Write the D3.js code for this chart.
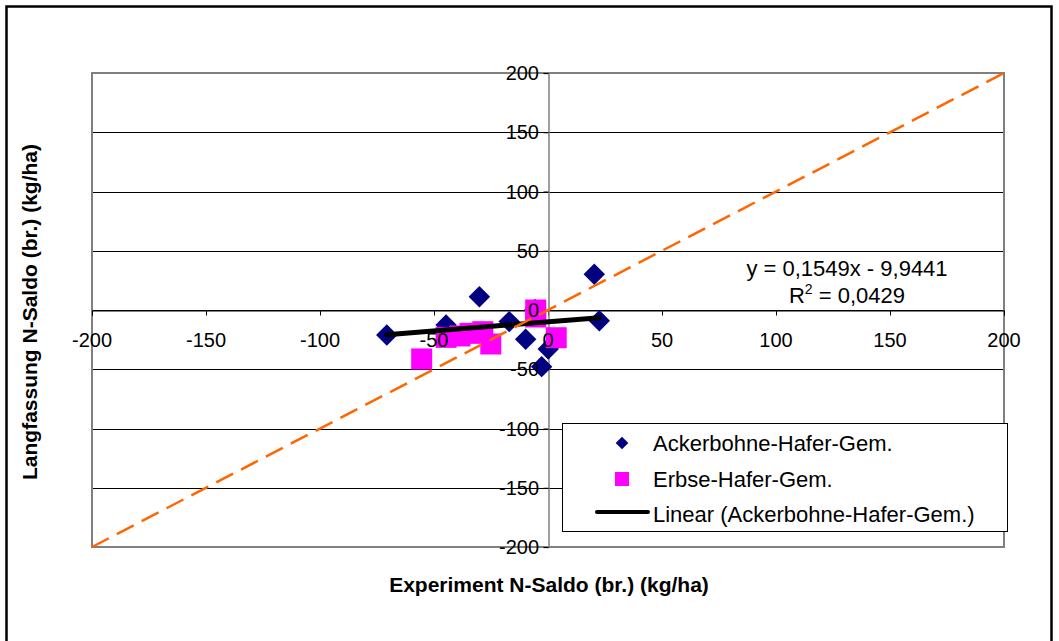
<!DOCTYPE html>
<html>
<head>
<meta charset="utf-8">
<script src="https://cdn.jsdelivr.net/npm/d3@7"></script>
<style>
  body { margin: 0; background: #fff; }
  text { font-family: "Liberation Sans", Arial, sans-serif; }
</style>
</head>
<body>
<div id="chart"></div>
<script>
// data
const ackerX = [-70.7, -44.7, -30.1, -17.0, -9.8, 0.1, -2.8, 20.3, 22.5, -5.7];
const ackerY = [-21.1, -12.7, 11.2, -9.8, -24.7, -32.9, -47.8, 30.1, -9.0, 0.5];
const erbseX = [-55.4, -44.7, -38.6, -34.2, -28.6, -25.1, -5.4, -5.4, 3.6];
const erbseY = [-41.3, -23.1, -21.9, -19.7, -18.3, -28.7, 0.0, -5.9, -23.4];
const ticks = [-200, -150, -100, -50, 0, 50, 100, 150, 200];
const slope = 0.1549;
const intercept = -9.9441;
const legendNames = ['Ackerbohne-Hafer-Gem.', 'Erbse-Hafer-Gem.', 'Linear (Ackerbohne-Hafer-Gem.)'];

const width = 1059;
const height = 641;
const plot = {left: 92, right: 1004, top: 73, bottom: 547};

const svg = d3.select('#chart')
    .append('svg')
        .attr('width', width)
        .attr('height', height);

// outer chart frame
svg.append('rect')
    .attr('x', 6.5).attr('y', 6.5)
    .attr('width', 1045).attr('height', 700)
    .attr('fill', '#fff')
    .attr('stroke', '#000')
    .attr('stroke-width', 2.5);

const x = d3.scaleLinear().domain([-200, 200]).range([plot.left, plot.right]);
const y = d3.scaleLinear().domain([-200, 200]).range([plot.bottom, plot.top]);

// plot area
svg.append('rect')
    .attr('x', plot.left).attr('y', plot.top)
    .attr('width', plot.right - plot.left)
    .attr('height', plot.bottom - plot.top)
    .attr('fill', '#fff');

// horizontal gridlines
svg.selectAll('.grid')
    .data(ticks.filter(t => t > -200 && t < 200))
    .enter()
    .append('line')
        .attr('class', 'grid')
        .attr('x1', plot.left).attr('x2', plot.right)
        .attr('y1', d => Math.round(y(d)) + 0.5)
        .attr('y2', d => Math.round(y(d)) + 0.5)
        .attr('stroke', '#000')
        .attr('stroke-width', 1);

svg.append('rect')
    .attr('x', plot.left).attr('y', plot.top)
    .attr('width', plot.right - plot.left)
    .attr('height', plot.bottom - plot.top)
    .attr('fill', 'none')
    .attr('stroke', '#808080')
    .attr('stroke-width', 2);

// axes through the origin
const xAxisG = svg.append('g')
    .attr('transform', `translate(0,${Math.round(y(0)) + 0.5})`)
    .call(d3.axisBottom(x).tickValues(ticks).tickSize(5).tickFormat(''));
xAxisG.select('.domain').attr('stroke', '#000');

const yAxisG = svg.append('g')
    .attr('transform', `translate(${Math.round(x(0)) + 0.5},0)`)
    .call(d3.axisLeft(y).tickValues(ticks).tickSize(5).tickFormat(''));
yAxisG.select('.domain').attr('stroke', '#808080').attr('stroke-width', 1.5);

// markers
const diamond = d3.symbol().type(d3.symbolSquare).size(230);
svg.selectAll('.acker')
    .data(ackerX.map((v, i) => ({x: v, y: ackerY[i]})))
    .enter()
    .append('path')
        .attr('class', 'acker')
        .attr('d', diamond)
        .attr('transform', d => `translate(${x(d.x)},${y(d.y)}) rotate(45)`)
        .attr('fill', '#000080');

svg.selectAll('.erbse')
    .data(erbseX.map((v, i) => ({x: v, y: erbseY[i]})))
    .enter()
    .append('rect')
        .attr('class', 'erbse')
        .attr('x', d => x(d.x) - 10.5)
        .attr('y', d => y(d.y) - 10.5)
        .attr('width', 21).attr('height', 21)
        .attr('fill', '#ff00ff');

// linear trend for Ackerbohne
const xMin = d3.min(ackerX);
const xMax = d3.max(ackerX);
svg.append('line')
    .attr('x1', x(xMin)).attr('y1', y(slope * xMin + intercept))
    .attr('x2', x(xMax)).attr('y2', y(slope * xMax + intercept))
    .attr('stroke', '#000')
    .attr('stroke-width', 5)
    .attr('stroke-linecap', 'round');

// 1:1 line
svg.append('line')
    .attr('x1', x(-200)).attr('y1', y(-200))
    .attr('x2', x(200)).attr('y2', y(200))
    .attr('stroke', '#ff6600')
    .attr('stroke-width', 2.5)
    .attr('stroke-dasharray', '19,9');

// tick labels
svg.selectAll('.xlab')
    .data(ticks)
    .enter()
    .append('text')
        .attr('class', 'xlab')
        .attr('x', d => x(d))
        .attr('y', 347)
        .attr('text-anchor', 'middle')
        .style('font-size', '20px')
        .text(d => d);

svg.selectAll('.ylab')
    .data(ticks)
    .enter()
    .append('text')
        .attr('class', 'ylab')
        .attr('x', 539)
        .attr('y', d => y(d) + 7)
        .attr('text-anchor', 'end')
        .style('font-size', '20px')
        .text(d => d);

// equation
svg.append('text')
    .attr('x', 847).attr('y', 276)
    .attr('text-anchor', 'middle')
    .style('font-size', '22px')
    .text('y = 0,1549x - 9,9441');
const r2 = svg.append('text')
    .attr('x', 847).attr('y', 303)
    .attr('text-anchor', 'middle')
    .style('font-size', '22px');
r2.append('tspan').text('R');
r2.append('tspan').attr('dy', -9).style('font-size', '14px').text('2');
r2.append('tspan').attr('dy', 9).text(' = 0,0429');

// axis titles
svg.append('text')
    .attr('x', 549).attr('y', 592)
    .attr('text-anchor', 'middle')
    .style('font-size', '21px')
    .style('font-weight', 'bold')
    .text('Experiment N-Saldo (br.) (kg/ha)');

svg.append('text')
    .attr('transform', 'translate(37,312) rotate(-90)')
    .attr('text-anchor', 'middle')
    .style('font-size', '21px')
    .style('font-weight', 'bold')
    .text('Langfassung N-Saldo (br.) (kg/ha)');

// legend
const legend = svg.append('g');
legend.append('rect')
    .attr('x', 562.5).attr('y', 423.5)
    .attr('width', 445).attr('height', 108)
    .attr('fill', '#fff')
    .attr('stroke', '#000')
    .attr('stroke-width', 1);

legend.append('path')
    .attr('d', d3.symbol().type(d3.symbolSquare).size(80))
    .attr('transform', 'translate(622,443) rotate(45)')
    .attr('fill', '#000080');
legend.append('rect')
    .attr('x', 615).attr('y', 472)
    .attr('width', 14).attr('height', 14)
    .attr('fill', '#ff00ff');
legend.append('line')
    .attr('x1', 597).attr('x2', 648)
    .attr('y1', 512).attr('y2', 512)
    .attr('stroke', '#000')
    .attr('stroke-width', 4)
    .attr('stroke-linecap', 'round');

legend.selectAll('.legtext')
    .data(legendNames)
    .enter()
    .append('text')
        .attr('class', 'legtext')
        .attr('x', 653)
        .attr('y', (d, i) => 451 + i * 35.5)
        .style('font-size', '22px')
        .text(d => d);
</script>
</body>
</html>
